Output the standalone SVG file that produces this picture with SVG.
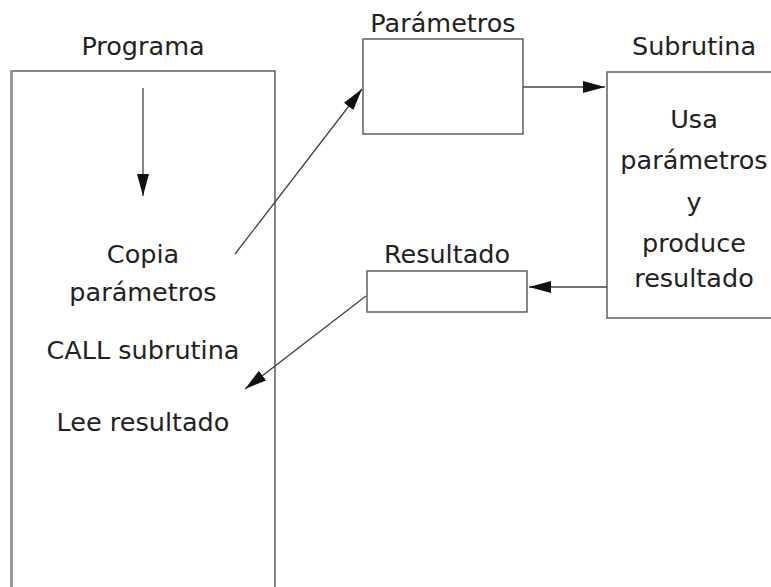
<svg xmlns="http://www.w3.org/2000/svg" width="771" height="587" viewBox="0 0 771 587">
<style>
text{font-family:"DejaVu Sans","Liberation Sans",sans-serif;font-size:25.5px;fill:#222;text-anchor:middle}
.box{fill:#fff;stroke:#555;stroke-width:1.4}
.conn{stroke:#444;stroke-width:1.3;fill:none;marker-end:url(#ah)}
</style>
<defs>
<marker id="ah" markerUnits="userSpaceOnUse" markerWidth="24" markerHeight="14" refX="22" refY="6" orient="auto">
<path d="M0,0 L22,6 L0,12 Z" fill="#111"/>
</marker>
</defs>
<rect width="771" height="587" fill="#fff"/>
<g id="programa">
<rect class="box" x="11" y="71" width="264" height="530"/>
<line x1="11.5" y1="71" x2="11.5" y2="587" stroke="#999" stroke-width="3"/>
<text x="143" y="55">Programa</text>
<text x="143" y="263">Copia</text>
<text x="143" y="301">parámetros</text>
<text x="143" y="359">CALL subrutina</text>
<text x="143" y="431">Lee resultado</text>
</g>
<g id="parametros">
<rect class="box" x="363" y="39" width="160" height="95"/>
<text x="443" y="32">Parámetros</text>
</g>
<g id="subrutina">
<rect class="box" x="607" y="72" width="180" height="246"/>
<text x="694" y="55">Subrutina</text>
<text x="694" y="128">Usa</text>
<text x="694" y="169">parámetros</text>
<text x="694" y="211">y</text>
<text x="694" y="252">produce</text>
<text x="694" y="287">resultado</text>
</g>
<g id="resultado">
<rect class="box" x="367" y="271" width="160" height="41"/>
<text x="447" y="263">Resultado</text>
</g>
<g id="connectors">
<line class="conn" x1="143" y1="88" x2="143" y2="196"/>
<line class="conn" x1="235" y1="254" x2="362" y2="89"/>
<line class="conn" x1="523" y1="87" x2="605" y2="87"/>
<line class="conn" x1="607" y1="287" x2="529" y2="287"/>
<line class="conn" x1="366" y1="296" x2="245" y2="389"/>
</g>
</svg>
